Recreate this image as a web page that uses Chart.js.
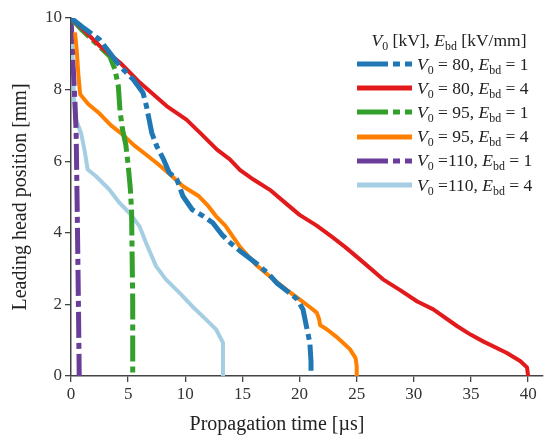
<!DOCTYPE html>
<html>
<head>
<meta charset="utf-8">
<script src="https://cdn.jsdelivr.net/npm/chart.js@4.4.1/dist/chart.umd.min.js"></script>
<style>
  body{margin:0;background:#fff;}
  #wrap{position:relative;width:544px;height:437px;}
  #legend{position:absolute;left:357px;top:28px;font-family:'Liberation Serif',serif;font-size:17.5px;color:#222;}
  #legend .ttl{width:184px;height:24px;line-height:24px;text-align:center;}
  #legend .row{display:flex;align-items:center;height:24.2px;white-space:nowrap;}
  #legend svg{margin-right:5px;}
  #legend i{font-style:italic;}
  #legend sub{font-size:0.68em;vertical-align:-0.3em;line-height:0;}
</style>
</head>
<body>
<div id="wrap">
  <canvas id="c" width="544" height="437"></canvas>
  <div id="legend"></div>
</div>
<script>
// ---- data ----
// V0 = 80 kV, Ebd = 1 kV/mm
const t80a=[0,1,2.5,4.3,5.45,6.3,6.6,7.06,7.5,8.1,8.6,9.25,9.8,10.6,11.6,12.4,13.2,14,15,16,16.5,17.3,18,19,19.8,20.3,20.6,20.9,21,21];
const y80a=[10,9.75,9.4,8.65,8.28,7.91,7.54,6.8,6.42,6.05,5.68,5.5,5.02,4.65,4.46,4.28,3.95,3.7,3.44,3.2,3.07,2.85,2.6,2.35,2.14,1.86,1.39,0.93,0.4,0];
// V0 = 80 kV, Ebd = 4 kV/mm
const t80b=[0,1,2.54,4.3,6.04,8.37,10.1,11.3,12.75,13.9,14.8,16,17.4,18.7,20,21.5,22.9,24,25.3,27.3,28.8,30.3,31.7,33.8,35,36.1,38.1,39.3,39.9,40];
const y80b=[10,9.7,9.21,8.75,8.19,7.54,7.16,6.79,6.33,6.05,5.75,5.48,5.2,4.85,4.5,4.2,3.87,3.6,3.25,2.7,2.4,2.08,1.86,1.39,1.15,0.96,0.65,0.42,0.24,0];
// V0 = 95 kV, Ebd = 1 kV/mm
const t95a=[0,1,2.5,3.4,3.85,4.14,4.29,4.5,4.8,5.0,5.2,5.3,5.4,5.4];
const y95a=[10,9.65,9.2,8.93,8.56,8.1,7.4,6.9,6.45,5.9,5.2,4.6,2.1,0];
// V0 = 95 kV, Ebd = 4 kV/mm
const t95b=[0.35,0.5,0.65,0.8,1.5,2.5,3.5,4.5,5.5,6.5,7.5,8.6,9.8,11.2,12.0,12.7,13.5,14.8,16.2,17.7,18.9,20,21,21.5,21.7,21.8,22.4,23.2,23.8,24.4,24.9,25,25];
const y95b=[9.6,9.1,8.4,7.87,7.6,7.33,7.0,6.75,6.45,6.2,5.95,5.65,5.3,5.02,4.75,4.46,4.2,3.6,3.1,2.7,2.4,2.14,1.9,1.77,1.6,1.42,1.3,1.1,0.93,0.75,0.5,0.27,0];
// V0 = 110 kV, Ebd = 1 kV/mm
const t110a=[0,0.2,0.35,0.45,0.55,0.65,0.72];
const y110a=[10,8.6,7.6,6.8,4.5,2,0];
// V0 = 110 kV, Ebd = 4 kV/mm
const t110b=[0,0.15,0.26,0.44,0.88,1.17,1.46,2.19,3.35,4.23,5.1,6.0,6.56,7.44,8.3,9.5,10.6,11.8,12.7,13.3,13.3];
const y110b=[10,8.8,7.72,7.16,6.79,6.33,5.77,5.58,5.21,4.84,4.56,4.18,3.72,3.07,2.7,2.32,1.95,1.58,1.3,0.93,0];

const v0Vals=['80','80','95','95','110','110'];
const ebdVals=['1','4','1','4','1','4'];
const xTicks=[0,5,10,15,20,25,30,35,40];
const yTicks=[0,2,4,6,8,10];

// ---- styles ----
const colors=['#1f78b4','#e31a1c','#33a02c','#ff7f00','#6a3d9a','#a6cee3'];
const dashed=[true,false,true,false,true,false];
const series=[[t80a,y80a],[t80b,y80b],[t95a,y95a],[t95b,y95b],[t110a,y110a],[t110b,y110b]];

const pts=(t,y)=>t.map((v,i)=>({x:v,y:y[i]}));
const serif="'Liberation Serif', 'Times New Roman', serif";

const datasets=series.map((s,i)=>({
  label:'V0='+v0Vals[i]+', Ebd='+ebdVals[i],
  data:pts(s[0],s[1]),
  borderColor:colors[i],
  borderWidth:dashed[i]?5:4,
  borderDash:dashed[i]?[26,5,6,5]:[],
  borderCapStyle:'butt',
  borderJoinStyle:'round',
  pointRadius:0,
  tension:0,
  fill:false
}));

// x-axis title sits left of the axis centre in the original
const xTitle={
  id:'xTitle',
  afterDraw(chart){
    const {ctx,chartArea}=chart;
    ctx.save();
    ctx.font='20px '+serif;
    ctx.fillStyle='#222';
    ctx.textAlign='center';
    ctx.textBaseline='middle';
    ctx.fillText('Propagation time [\u00b5s]',(chartArea.left+chartArea.right)/2-30,425);
    ctx.restore();
  }
};

new Chart(document.getElementById('c').getContext('2d'),{
  type:'line',
  data:{datasets},
  plugins:[xTitle],
  options:{
    responsive:false,animation:false,
    layout:{padding:{left:9,top:18,right:1,bottom:0}},
    plugins:{legend:{display:false},tooltip:{enabled:false}},
    scales:{
      x:{type:'linear',min:0,max:41.3,
        afterFit:s=>{s.height=61;},
        afterBuildTicks:s=>{s.ticks=xTicks.map(v=>({value:v}));},
        grid:{drawOnChartArea:false,drawTicks:true,tickLength:6,color:'#444',lineWidth:1.3},
        border:{display:true,color:'#444',width:1.5},
        ticks:{color:'#333',font:{family:serif,size:17},padding:2,maxRotation:0}
      },
      y:{type:'linear',min:0,max:10,
        afterFit:s=>{s.width=62;},
        afterBuildTicks:s=>{s.ticks=yTicks.map(v=>({value:v}));},
        grid:{drawOnChartArea:false,drawTicks:true,tickLength:6,color:'#444',lineWidth:1.3},
        border:{display:true,color:'#444',width:1.5},
        ticks:{color:'#333',font:{family:serif,size:17},padding:3},
        title:{display:true,text:'Leading head position [mm]',color:'#222',font:{family:serif,size:20},padding:{top:0,bottom:0}}
      }
    }
  }
});

// ---- legend with subscripts ----
const lg=document.getElementById('legend');
let html='<div class="ttl"><i>V</i><sub>0</sub> [kV], <i>E</i><sub>bd</sub> [kV/mm]</div>';
v0Vals.forEach((v,i)=>{
  const dash=dashed[i]?' stroke-dasharray="31 5 7 5"':'';
  const eq=v.length>2?' =':' = ';
  html+='<div class="row"><svg width="55" height="10"><line x1="0" y1="5" x2="55" y2="5" stroke="'+colors[i]+'" stroke-width="5"'+dash+'/></svg>'+
    '<span><i>V</i><sub>0</sub>'+eq+v+', <i>E</i><sub>bd</sub> = '+ebdVals[i]+'</span></div>';
});
lg.innerHTML=html;
</script>
</body>
</html>
